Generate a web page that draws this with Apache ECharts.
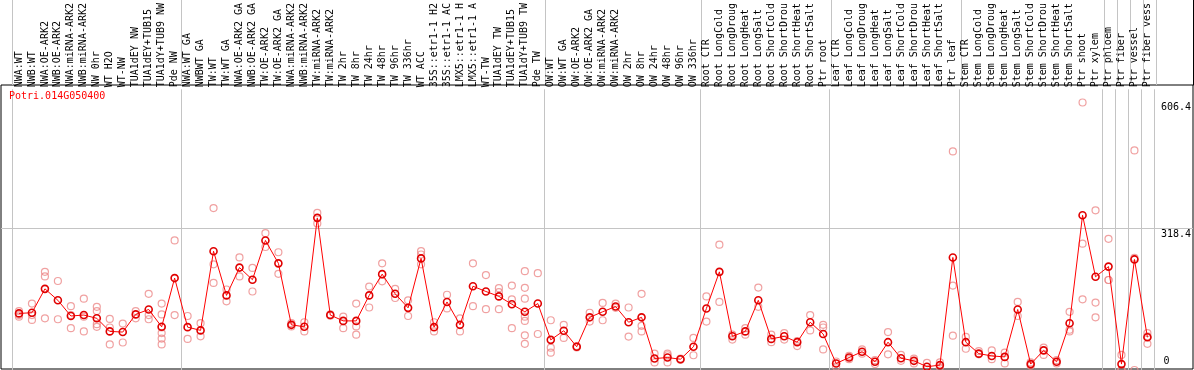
<!DOCTYPE html>
<html><head><meta charset="utf-8">
<script src="https://cdn.jsdelivr.net/npm/echarts@6/dist/echarts.min.js"></script>
<style>html,body{margin:0;padding:0;background:#fff}#c{width:1194px;height:370px}</style>
</head><body><div id="c"></div>
<script>
const geneId = 'Potri.014G050400';

const categories = [
  'NWA:WT','NWB:WT','NWA:OE-ARK2','NWB:OE-ARK2','NWA:miRNA-ARK2','NWB:miRNA-ARK2','NW 0hr','WT H2O','WT-NW',
  'TUA1dEY NW','TUA1dEY+TUB15','TUA1dY+TUB9 NW','Pde NW',
  'NWA:WT GA','NWBWT GA','TW:WT','TW:WT GA','NWA:OE-ARK2 GA','NWB:OE-ARK2 GA','TW:OE-ARK2','TW:OE-ARK2 GA',
  'NWA:miRNA-ARK2','NWB:miRNA-ARK2','TW:miRNA-ARK2','TW:miRNA-ARK2','TW 2hr','TW 8hr','TW 24hr','TW 48hr','TW 96hr','TW 336hr',
  'WT ACC','35S::etr1-1 H2','35S::etr1-1 AC','LMX5::etr1-1 H','LMX5::etr1-1 A','WT-TW','TUA1dEY TW','TUA1dEY+TUB15','TUA1dY+TUB9 TW','Pde TW',
  'OW:WT','OW:WT GA','OW:OE-ARK2','OW:OE-ARK2 GA','OW:miRNA-ARK2','OW:miRNA-ARK2','OW 2hr','OW 8hr','OW 24hr','OW 48hr','OW 96hr','OW 336hr',
  'Root CTR','Root LongCold','Root LongDroug','Root LongHeat','Root LongSalt','Root ShortCold','Root ShortDrou','Root ShortHeat','Root ShortSalt','Ptr root',
  'Leaf CTR','Leaf LongCold','Leaf LongDroug','Leaf LongHeat','Leaf LongSalt','Leaf ShortCold','Leaf ShortDrou','Leaf ShortHeat','Leaf ShortSalt','Ptr leaf',
  'Stem CTR','Stem LongCold','Stem LongDroug','Stem LongHeat','Stem LongSalt','Stem ShortCold','Stem ShortDrou','Stem ShortHeat','Stem ShortSalt','Ptr shoot',
  'Ptr xylem','Ptr phloem','Ptr fiber','Ptr vessel','Ptr fiber vess'
];

const meanValues = [
  128.3,129.8,184.0,158.0,122.4,124.6,117.2,87.5,86.0,126.1,137.2,97.9,208.4,
  97.2,89.8,269.3,169.1,232.2,204.7,293.7,241.8,102.4,97.9,344.9,124.6,111.3,111.3,169.1,217.3,172.8,140.9,
  253.0,97.2,154.3,102.4,189.9,178.0,166.9,149.1,132.0,150.6,
  68.3,89.0,52.7,119.4,132.0,143.9,108.3,119.4,26.0,28.2,24.5,52.7,
  139.5,222.5,76.4,87.5,158.0,70.5,76.4,63.1,108.3,81.6,
  14.8,28.2,41.5,18.6,63.1,26.7,20.8,7.5,11.1,255.2,
  63.1,37.1,31.9,29.7,137.2,13.4,44.5,18.6,106.1,350.8,
  211.4,234.4,13.4,250.7,74.2
];

const replicateValues = [
  [133.5,124.6,120.9],[150.6,124.6,113.5],[222.5,212.1,117.2],[201.8,115.0],[144.7,94.9,124.6],[161.7,87.5,120.9],
  [143.2,133.5,103.9,97.9],[115.7,96.4,57.9],[105.3,62.3],[133.5,117.2],[172.8,124.6,115.0],
  [150.6,126.1,96.4,83.8,71.2,57.9],[293.7,124.6],
  [122.4,70.5],[106.1,76.4],[367.2,239.6,197.3],[182.5,155.8],[255.2,212.1],[231.4,178.0],[310.1,278.9],[267.0,218.1],
  [106.1,98.7],[108.3,87.5],[356.0,332.3],[126.1,123.1],[120.9,94.9],[150.6,98.7,80.1],[189.2,141.7],[241.8,201.0],
  [184.0,163.2],[158.0,122.4],
  [269.3,261.8,239.6],[108.3,87.5],[170.6,139.5],[117.2,87.5],[241.8,144.7],[215.1,138.0],[185.4,176.5,138.0],
  [191.4,160.2,94.9],[224.0,186.2,161.7,120.9,111.3,78.6,59.4],[219.6,81.6],
  [112.8,50.5,39.3],[102.4,72.7],[54.2,51.2],[129.8,109.8],[152.1,112.8],[150.6,140.9],[141.7,75.7],[172.8,100.2,87.5],
  [37.1,17.1],[37.1,33.4,17.1],[26.0,23.0],[72.7,33.4],
  [166.9,109.8],[284.1,154.3],[80.1,69.0],[94.9,80.1],[186.9,143.2],[80.1,63.1],[83.8,69.0],[65.3,54.2],[124.6,89.8],
  [102.4,96.4,46.7],
  [19.3,7.5],[31.9,24.5],[46.7,37.1],[22.3,13.4],[86.0,35.6],[34.1,20.8],[26.0,14.8],[16.3,2.3],[17.1,6.0],
  [495.5,191.4,77.9],
  [74.9,48.2],[43.0,35.6],[44.5,24.5],[39.3,14.8],[154.3,122.4],[17.1,9.7],[50.5,34.1],[22.3,14.8],[132.0,91.2,87.5],
  [606.4,286.3,160.2],
  [362.0,152.8,119.4],[297.4,204.0,204.0],[34.1,0,0],[497.7,254.4,0],[83.8,76.4,59.4]
];

const yTickValues = [0, 318.4, 606.4];
const groupStartIndices = [0, 13, 41, 53, 63, 73, 84, 85, 86, 87];

const FONT = 'DejaVu Sans Mono';
const GRID_COLOR = '#c4c4c4';
const Y_MAX = 636.4;
const boundarySet = new Set(groupStartIndices);
const isBoundary = (i) => boundarySet.has(i);

const scatterData = [];
replicateValues.forEach((reps, i) => reps.forEach(v => scatterData.push([i, v])));

const plotRect = {left: 12.5, width: 1144, top: 85, height: 286};
const labelStyle = {fontFamily: FONT, fontSize: 10, color: '#000'};
const fmt = (v) => yTickValues.includes(v) ? String(v) : '';

function labelAxis(gridIndex, value, extra) {
  return {
    gridIndex, type: 'value', min: 0, max: Y_MAX, position: 'right',
    axisLine: {show: false}, axisTick: {show: false}, splitLine: {show: false},
    axisLabel: Object.assign({customValues: [value], margin: 7, formatter: fmt}, labelStyle, extra)
  };
}

const chart = echarts.init(document.getElementById('c'), null, {renderer: 'canvas'});
chart.setOption({
  animation: false,
  title: {text: geneId, left: 9, top: 91, padding: 0,
    textStyle: {color: '#ff0000', fontFamily: FONT, fontSize: 10, fontWeight: 'normal'}},
  grid: [
    Object.assign({}, plotRect),
    {left: 12.5, width: 1144, top: 0, height: 85},
    {left: 1, right: 1, top: 85, bottom: 1, show: true, borderColor: '#000', borderWidth: 1, backgroundColor: 'transparent'},
    {left: 1100, right: 1, top: 0, height: 85},
    Object.assign({}, plotRect),
    Object.assign({}, plotRect)
  ],
  xAxis: [
    {gridIndex: 0, type: 'category', data: categories, position: 'top', boundaryGap: true,
      axisLine: {show: false}, axisTick: {show: false},
      axisLabel: Object.assign({interval: 0, rotate: 90, margin: 2}, labelStyle),
      splitLine: {show: true, interval: isBoundary, lineStyle: {color: GRID_COLOR, width: 1}}},
    {gridIndex: 1, type: 'category', data: categories, boundaryGap: true,
      axisLine: {show: false}, axisTick: {show: false}, axisLabel: {show: false},
      splitLine: {show: true, interval: isBoundary, lineStyle: {color: GRID_COLOR, width: 1}}},
    {gridIndex: 2, type: 'value', show: false},
    {gridIndex: 3, type: 'value', show: false},
    {gridIndex: 4, type: 'value', show: false},
    {gridIndex: 5, type: 'value', show: false}
  ],
  yAxis: [
    labelAxis(0, 318.4, {verticalAlign: 'top', padding: [0, 0, 0, 0]}),
    {gridIndex: 1, type: 'value', show: false},
    {gridIndex: 2, type: 'value', min: 4.45, max: Y_MAX,
      axisLine: {show: false}, axisLabel: {show: false},
      axisTick: {show: false, customValues: [318.4]},
      splitLine: {show: true, lineStyle: {color: GRID_COLOR, width: 1}}},
    {gridIndex: 3, type: 'value', position: 'right',
      axisLine: {show: true, onZero: false, lineStyle: {color: '#000', width: 1}},
      axisTick: {show: false}, axisLabel: {show: false}, splitLine: {show: false}},
    labelAxis(4, 606.4, {verticalAlign: 'top', padding: [4, 0, 0, 0]}),
    labelAxis(5, 0, {verticalAlign: 'bottom', padding: [0, 0, 4, 0]})
  ],
  series: [
    {type: 'scatter', xAxisIndex: 0, yAxisIndex: 0, data: scatterData, clip: false,
      symbol: 'circle', symbolSize: 7, z: 2,
      itemStyle: {color: 'rgba(0,0,0,0)', borderColor: '#ec8a8a', borderWidth: 1.2},
      emphasis: {disabled: true}},
    {type: 'line', xAxisIndex: 0, yAxisIndex: 0, data: meanValues, clip: false,
      symbol: 'circle', symbolSize: 7, showAllSymbol: true, z: 3,
      lineStyle: {color: '#ff0000', width: 1},
      itemStyle: {color: 'rgba(0,0,0,0)', borderColor: '#e00000', borderWidth: 1.6},
      emphasis: {disabled: true}}
  ]
});
</script></body></html>
